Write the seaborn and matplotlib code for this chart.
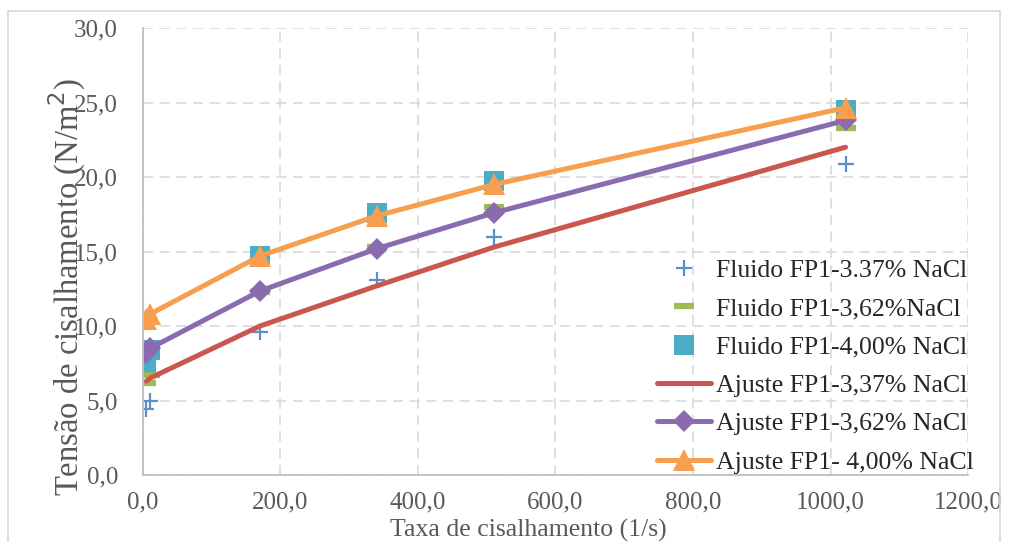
import numpy as np
import pandas as pd
import seaborn as sns
import matplotlib.pyplot as plt
from matplotlib.patches import Rectangle
from matplotlib.ticker import FuncFormatter

sns.set_theme(style="white")
plt.rcParams['font.family'] = ['Liberation Serif', 'DejaVu Serif']

# shear rates (1/s)
shear = [5.1, 10.2, 170.3, 340.6, 510.9, 1021.8]

# measured shear stress (N/m2)
fluid_337 = [4.4, 5.0, 9.6, 13.1, 16.0, 20.9]
fluid_362 = [6.2, 6.7, 12.3, 15.3, 18.0, 23.3]
fluid_400 = [7.6, 8.4, 14.7, 17.6, 19.7, 24.5]

# fitted curves
fit_337 = [6.3, 6.5, 10.0, 12.7, 15.3, 22.0]
fit_362 = [8.2, 8.5, 12.35, 15.2, 17.6, 23.8]
fit_400 = [10.5, 10.8, 14.7, 17.4, 19.5, 24.65]

labels = [
    "Fluido FP1-3.37% NaCl",
    "Fluido FP1-3,62%NaCl",
    "Fluido FP1-4,00% NaCl",
    "Ajuste FP1-3,37% NaCl",
    "Ajuste FP1-3,62% NaCl",
    "Ajuste FP1- 4,00% NaCl",
]

x_ticks = [0, 200, 400, 600, 800, 1000, 1200]
y_ticks = [0, 5, 10, 15, 20, 25, 30]

fig = plt.figure(figsize=(10.11, 5.42), dpi=100)
ax = fig.add_axes([0.1414, 0.1236, 0.8161, 0.8247])

# outer chart border
fig.patches.append(Rectangle((8 / 1011, -0.02), 992 / 1011, 1 - 11 / 542 + 0.02,
                             transform=fig.transFigure, fill=False,
                             edgecolor="#d9d9d9", linewidth=1.2))

sns.lineplot(x=shear, y=fluid_337, ax=ax, linestyle="none", marker="+",
             markersize=12, markeredgewidth=1.6, color="#5b8fc9",
             markeredgecolor="#5b8fc9", label=labels[0])
sns.lineplot(x=shear, y=fluid_362, ax=ax, linestyle="none", marker="_",
             markersize=14, markeredgewidth=4.5, color="#9bbb59",
             markeredgecolor="#9bbb59", label=labels[1])
sns.lineplot(x=shear, y=fluid_400, ax=ax, linestyle="none", marker="s",
             markersize=15, markeredgewidth=0, color="#4bacc6", label=labels[2])
sns.lineplot(x=shear, y=fit_337, ax=ax, linewidth=3.6, color="#c9574f",
             label=labels[3])
sns.lineplot(x=shear, y=fit_362, ax=ax, linewidth=3.6, color="#8a6bb0",
             marker="D", markersize=11, markeredgewidth=0, label=labels[4])
sns.lineplot(x=shear, y=fit_400, ax=ax, linewidth=3.6, color="#f79e4f",
             marker="^", markersize=16, markeredgewidth=0, label=labels[5])

ax.set_xlim(0, 1200)
ax.set_ylim(0, 30)
ax.set_xticks(x_ticks)
ax.set_yticks(y_ticks)
fmt = FuncFormatter(lambda v, p: f"{v:.1f}".replace(".", ","))
ax.xaxis.set_major_formatter(fmt)
ax.yaxis.set_major_formatter(fmt)

ax.grid(True, linestyle=(0, (6, 4)), color="#d9d9d9", linewidth=1.2)
ax.set_axisbelow(True)
for side in ["top", "right"]:
    ax.spines[side].set_visible(False)
for side in ["left", "bottom"]:
    ax.spines[side].set_color("#bfbfbf")
    ax.spines[side].set_linewidth(1.3)

ax.tick_params(axis="both", direction="out", length=6, width=1.2, color="#bfbfbf",
               labelsize=18, labelcolor="#595959")
ax.tick_params(axis="y", pad=12)
ax.tick_params(axis="x", pad=6)

ax.set_xlabel("Taxa de cisalhamento (1/s)", fontsize=18.5, color="#595959")
ax.set_ylabel("Tensão de cisalhamento (N/m$^2$)", fontsize=23.5, color="#595959")
ax.xaxis.set_label_coords(0.467, -0.125)
ax.xaxis.label.set_va("center")
ax.yaxis.set_label_coords(-0.092, 0.42)
ax.yaxis.label.set_va("center")

handles, labs = ax.get_legend_handles_labels()
ax.legend(handles, labs, loc="center left", bbox_to_anchor=(0.623, 0.243),
          frameon=False, fontsize=18.5, borderpad=0, borderaxespad=0,
          handlelength=2.1, handletextpad=0.2, labelspacing=0.6)

fig.savefig("out.png", dpi=100)
